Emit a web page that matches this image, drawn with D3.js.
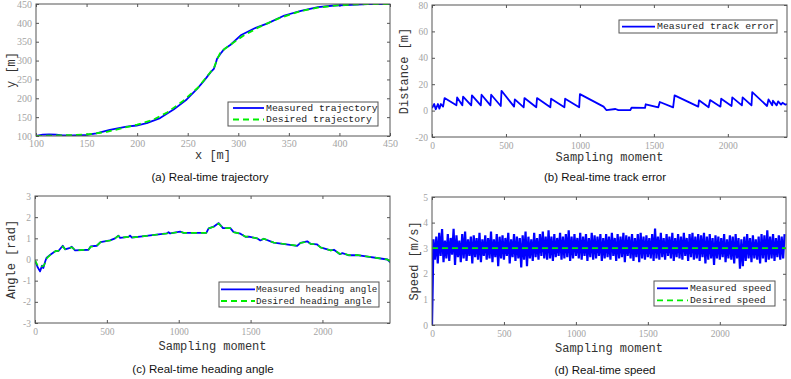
<!DOCTYPE html>
<html><head><meta charset="utf-8">
<script src="https://cdn.jsdelivr.net/npm/d3@7"></script>
<style>body{margin:0;background:#fff}</style>
</head><body><svg id="c" width="791" height="379"></svg>
<script>
// ---------- DATA ----------
// (a) trajectory
const trajMeasuredX = [100,106.6,113,120,126.5,136.5,150,159.7,173,189.6,199.5,209.5,222.7,236,249,259,266,272.5,275.8,277.5,279,282.4,285.8,292.4,302.4,315.7,329,345.5,362,378.7,395,412,428,450];
const trajMeasuredY = [100,103.6,104.5,103.6,101.8,101.8,102.7,107,116,125,127.8,134,147.6,170,197,224,246,268.7,277.7,291,304.6,318,329.7,342,367,385,398.8,419.5,432,441.9,446,448,449.5,450];
const trajDesiredX = [100,130,150,170,200,215,230,245,260,270,276,279,282,287,295,305,320,340,360,380,400,425,450];
const trajDesiredY = [100,102,104,111,130,142,163,192,228,261,281,303,320,332,347,366,388,412,430,441,447,449.5,450];
const trajXTicks = [100,150,200,250,300,350,400,450];
const trajYTicks = [100,150,200,250,300,350,400,450];

// (b) track error
const errX = [0,15,25,40,50,60,75,85,165,170,205,210,265,270,330,335,395,400,465,470,555,560,620,625,705,710,800,805,895,900,995,1000,1160,1180,1240,1260,1340,1350,1440,1445,1530,1540,1630,1640,1800,1805,1870,1880,1950,1955,2025,2030,2095,2100,2160,2165,2265,2275,2300,2305,2330,2340,2360,2370,2390,2400];
const errY = [2,5,1,5,1.5,5,3,9.5,4,10,4,10.5,4,11.5,4,12,4,12,3.5,15,3,8.5,2.5,9.5,2.5,9.5,2.5,9,2.5,9,2.5,12.5,3,0.3,1.2,0.3,0.3,2.3,2,4.8,2.5,6.5,2.5,11.5,3,7.8,2.5,8,3,9,3.5,10,4,10,4,14,3.5,8.5,4,7.5,4,7,4.5,6,4.5,5];
const errXTicks = [0,500,1000,1500,2000];
const errYTicks = [-20,0,20,40,60,80];

// (c) heading angle
const headX = [0,17,35,49,58,72,81,116,146,163,193,209,244,256,279,372,388,430,456,522,557,580,592,650,662,673,731,917,929,940,1010,1034,1192,1208,1243,1278,1308,1359,1382,1429,1464,1487,1545,1568,1592,1661,1824,1847,1894,1917,1963,1987,2057,2080,2122,2138,2185,2243,2452,2475];
const headMeasured = [-0.05,-0.34,-0.56,-0.29,-0.4,-0.07,0.09,0.27,0.41,0.4,0.65,0.48,0.55,0.6,0.43,0.46,0.62,0.65,0.82,0.9,1.0,1.13,1.02,1.07,1.13,1.04,1.08,1.23,1.29,1.23,1.32,1.26,1.26,1.47,1.55,1.72,1.48,1.48,1.29,1.22,1.07,1.08,1.0,0.9,0.98,0.8,0.64,0.79,0.86,0.74,0.71,0.57,0.43,0.46,0.25,0.3,0.2,0.21,0.0,-0.15];
const headDesiredX = [0,20,40,60,75,85,116,146,163,193,209,244,256,279,372,388,430,456,522,557,580,592,650,662,673,731,917,929,940,1010,1034,1192,1208,1243,1278,1308,1359,1382,1429,1464,1487,1545,1568,1592,1661,1824,1847,1894,1917,1963,1987,2057,2080,2122,2138,2185,2243,2452,2475];
const headDesired = [-0.03,-0.3,-0.35,-0.3,-0.1,0.08,0.27,0.41,0.4,0.62,0.48,0.55,0.58,0.44,0.46,0.6,0.65,0.82,0.9,1.0,1.12,1.03,1.07,1.12,1.04,1.08,1.23,1.28,1.23,1.31,1.26,1.26,1.46,1.55,1.7,1.48,1.48,1.29,1.22,1.08,1.08,1.0,0.91,0.98,0.8,0.65,0.78,0.85,0.74,0.71,0.57,0.43,0.46,0.26,0.3,0.2,0.21,0.0,-0.1];
const headXTicks = [0,500,1000,1500,2000];
const headYTicks = [-3,-2,-1,0,1,2,3];

// (d) speed (measured sampled every 10 moments, after the start-up ramp)
const speedStartX = [0,5];
const speedStartY = [0,1.6];
const speedStep = 10;
const speedMeasured = [
3.35,2.55,3.45,2.40,3.60,2.70,3.75,2.45,3.30,2.60,3.55,2.50,3.40,2.75,3.76,2.35,3.50,2.65,3.30,2.45,
3.55,2.60,3.65,2.50,3.35,2.70,3.45,2.40,3.50,2.65,3.40,2.55,3.60,2.45,3.35,2.70,3.50,2.55,3.40,2.60,
3.65,2.45,3.35,2.65,3.55,2.30,3.45,2.60,3.50,2.55,3.40,2.70,3.60,2.40,3.35,2.65,3.55,2.50,3.45,2.60,
3.40,2.25,3.50,2.55,3.65,2.30,3.45,2.60,3.35,2.50,3.60,2.65,3.40,2.55,3.55,2.70,3.65,2.60,3.45,2.55,
3.70,2.60,3.45,2.50,3.55,2.65,3.40,2.70,3.60,2.55,3.45,2.60,3.55,2.65,3.70,2.50,3.45,2.60,3.55,2.70,
3.40,2.60,3.60,2.55,3.45,2.70,3.55,2.50,3.40,2.65,3.60,2.55,3.50,2.60,3.45,2.70,3.55,2.50,3.40,2.60,
3.55,2.65,3.45,2.55,3.60,2.70,3.40,2.50,3.55,2.60,3.45,2.65,3.60,2.45,3.50,2.70,3.45,2.60,3.55,2.50,
3.40,2.65,3.55,2.45,3.60,2.60,3.45,2.55,3.50,2.65,3.40,2.60,3.55,2.50,3.77,2.60,3.45,2.55,3.60,2.65,
3.40,2.55,3.55,2.70,3.45,2.60,3.60,2.50,3.40,2.65,3.55,2.60,3.45,2.55,3.60,2.70,3.40,2.50,3.55,2.65,
3.60,2.55,3.45,2.60,3.55,2.50,3.50,2.65,3.60,2.40,3.45,2.55,3.55,2.60,3.40,2.35,3.50,2.60,3.45,2.55,
3.40,2.65,3.55,2.45,3.35,2.60,3.50,2.55,3.45,2.40,3.55,2.60,3.40,2.20,3.35,2.30,3.45,2.50,3.55,2.60,
3.40,2.45,3.50,2.60,3.35,2.55,3.45,2.40,3.55,2.60,3.50,2.45,3.70,2.55,3.45,2.60,3.55,2.50,3.40,2.65,
3.50,2.55,3.45,2.60,3.55];
const speedDesiredX = [0,2460];
const speedDesiredY = [3,3];
const speedXTicks = [0,500,1000,1500,2000];
const speedYTicks = [0,1,2,3,4,5];

// ---------- DRAW ----------
const svg = d3.select("#c");
const BLUE = "#0000ff", GREEN = "#00ee00";
const MONO = "'Liberation Mono', 'Courier New', monospace";
const SERIF = "'Liberation Serif', 'Times New Roman', serif";
const SANS = "'Liberation Sans', Arial, sans-serif";
let clipId = 0;
const fmt = d => String(d);

function panel(o) {
  const x = d3.scaleLinear().domain(o.xDomain).range([o.left, o.right]);
  const y = d3.scaleLinear().domain(o.yDomain).range([o.bottom, o.top]);
  const g = svg.append("g");
  const id = "clip" + (clipId++);
  g.append("clipPath").attr("id", id).append("rect")
    .attr("x", o.left).attr("y", o.top).attr("width", o.right - o.left).attr("height", o.bottom - o.top);

  const tl = 3;
  const styleAxis = (sel, fs) => {
    sel.select(".domain").remove();
    sel.selectAll(".tick line").attr("stroke", "#555");
    sel.selectAll(".tick text").attr("fill", "#a3a3a3").attr("font-family", SERIF).attr("font-size", fs);
  };
  g.append("g").attr("transform", `translate(0,${o.bottom})`)
    .call(d3.axisBottom(x).tickValues(o.xTicks).tickFormat(fmt).tickSizeInner(-tl).tickSizeOuter(0).tickPadding(o.xPad))
    .call(s => styleAxis(s, o.xfs));
  g.append("g").attr("transform", `translate(0,${o.top})`)
    .call(d3.axisTop(x).tickValues(o.xTicks).tickSizeInner(-tl).tickSizeOuter(0).tickFormat(""))
    .call(s => styleAxis(s, o.xfs));
  g.append("g").attr("transform", `translate(${o.left},0)`)
    .call(d3.axisLeft(y).tickValues(o.yTicks).tickFormat(fmt).tickSizeInner(-tl).tickSizeOuter(0).tickPadding(4))
    .call(s => styleAxis(s, o.yfs));
  g.append("g").attr("transform", `translate(${o.right},0)`)
    .call(d3.axisRight(y).tickValues(o.yTicks).tickSizeInner(-tl).tickSizeOuter(0).tickFormat(""))
    .call(s => styleAxis(s, o.yfs));

  const lg = g.append("g").attr("clip-path", `url(#${id})`);
  o.series.forEach(s => {
    const line = d3.line().x(d => x(d[0])).y(d => y(d[1]));
    lg.append("path").datum(s.data).attr("d", line)
      .attr("fill", "none").attr("stroke", s.color).attr("stroke-width", s.width)
      .attr("stroke-dasharray", s.dash || null).attr("stroke-linejoin", s.join || "round");
  });

  g.append("rect").attr("x", o.left).attr("y", o.top)
    .attr("width", o.right - o.left).attr("height", o.bottom - o.top)
    .attr("fill", "none").attr("stroke", "#555").attr("stroke-width", 1);

  g.append("text").attr("x", (o.left + o.right) / 2).attr("y", o.xTitleY)
    .attr("text-anchor", "middle").attr("dominant-baseline", "central")
    .attr("font-family", MONO).attr("font-size", 12).attr("fill", "#333").text(o.xTitle);
  g.append("text").attr("transform", `translate(${o.yTitleX},${(o.top + o.bottom) / 2}) rotate(-90)`)
    .attr("text-anchor", "middle").attr("dominant-baseline", "central")
    .attr("font-family", MONO).attr("font-size", 12).attr("fill", "#333").text(o.yTitle);

  g.append("text").attr("x", o.capX).attr("y", o.capY)
    .attr("text-anchor", "middle").attr("dominant-baseline", "central")
    .attr("font-family", SANS).attr("font-size", 11.5).attr("fill", "#111").text(o.caption);

  const L = o.legend;
  g.append("rect").attr("x", L.x0).attr("y", L.y0).attr("width", L.x1 - L.x0).attr("height", L.y1 - L.y0)
    .attr("fill", "#fff").attr("stroke", "#555").attr("stroke-width", 1);
  L.items.forEach((it, i) => {
    const yy = L.rows[i];
    g.append("line").attr("x1", L.lx0).attr("x2", L.lx1).attr("y1", yy).attr("y2", yy)
      .attr("stroke", it.color).attr("stroke-width", it.width).attr("stroke-dasharray", it.dash || null);
    g.append("text").attr("x", L.tx).attr("y", yy).attr("dominant-baseline", "central")
      .attr("font-family", MONO).attr("font-size", L.fs).attr("fill", "#222").text(it.label);
  });
}

const zip = (a, b) => a.map((v, i) => [v, b[i]]);
const speedData = zip(speedStartX, speedStartY).concat(speedMeasured.map((v, i) => [(i + 1) * speedStep, v]));

panel({
  left: 36, right: 390, top: 4, bottom: 136,
  xDomain: [100, 450], yDomain: [100, 450], xTicks: trajXTicks, yTicks: trajYTicks,
  xfs: 10, yfs: 10, xPad: 4,
  xTitle: "x [m]", xTitleY: 156, yTitle: "y [m]", yTitleX: 12,
  caption: "(a) Real-time trajectory", capX: 210, capY: 177,
  series: [
    { data: zip(trajMeasuredX, trajMeasuredY), color: BLUE, width: 1.8 },
    { data: zip(trajDesiredX, trajDesiredY), color: GREEN, width: 1.8, dash: "6,4" }
  ],
  legend: { x0: 228, x1: 378, y0: 102, y1: 126, rows: [108, 119.5], lx0: 233, lx1: 264, tx: 266, fs: 9.8,
    items: [{ label: "Measured trajectory", color: BLUE, width: 1.8 },
            { label: "Desired trajectory", color: GREEN, width: 1.8, dash: "6,4" }] }
});

panel({
  left: 432, right: 787, top: 5, bottom: 137,
  xDomain: [0, 2400], yDomain: [-20, 80], xTicks: errXTicks, yTicks: errYTicks,
  xfs: 9.5, yfs: 9.5, xPad: 5,
  xTitle: "Sampling moment", xTitleY: 158, yTitle: "Distance [m]", yTitleX: 405,
  caption: "(b) Real-time track error", capX: 605, capY: 177,
  series: [{ data: zip(errX, errY), color: BLUE, width: 1.8 }],
  legend: { x0: 619, x1: 777, y0: 20, y1: 33, rows: [26.7], lx0: 622, lx1: 655, tx: 657, fs: 9.8,
    items: [{ label: "Measured track error", color: BLUE, width: 1.8 }] }
});

panel({
  left: 35, right: 390, top: 196, bottom: 323,
  xDomain: [0, 2470], yDomain: [-3, 3], xTicks: headXTicks, yTicks: headYTicks,
  xfs: 9.5, yfs: 9.5, xPad: 5,
  xTitle: "Sampling moment", xTitleY: 347, yTitle: "Angle [rad]", yTitleX: 12,
  caption: "(c) Real-time heading angle", capX: 203, capY: 369,
  series: [
    { data: zip(headX, headMeasured), color: BLUE, width: 1.8 },
    { data: zip(headDesiredX, headDesired), color: GREEN, width: 1.6, dash: "6,4" }
  ],
  legend: { x0: 219, x1: 379, y0: 282, y1: 307, rows: [289.3, 301], lx0: 221, lx1: 255, tx: 256, fs: 9.2,
    items: [{ label: "Measured heading angle", color: BLUE, width: 1.8 },
            { label: "Desired heading angle", color: GREEN, width: 1.8, dash: "6,4" }] }
});

panel({
  left: 432, right: 786, top: 197, bottom: 325,
  xDomain: [0, 2460], yDomain: [0, 5], xTicks: speedXTicks, yTicks: speedYTicks,
  xfs: 9.5, yfs: 9.5, xPad: 5,
  xTitle: "Sampling moment", xTitleY: 349, yTitle: "Speed [m/s]", yTitleX: 415,
  caption: "(d) Real-time speed", capX: 605, capY: 370,
  series: [
    { data: speedData, color: BLUE, width: 2.2, join: "miter" },
    { data: zip(speedDesiredX, speedDesiredY), color: GREEN, width: 1.8, dash: "6,4" }
  ],
  legend: { x0: 654, x1: 775, y0: 281, y1: 306, rows: [288.3, 300.3], lx0: 657, lx1: 688, tx: 690, fs: 9.7,
    items: [{ label: "Measured speed", color: BLUE, width: 1.8 },
            { label: "Desired speed", color: GREEN, width: 1.8, dash: "6,4" }] }
});
</script>
</body></html>
